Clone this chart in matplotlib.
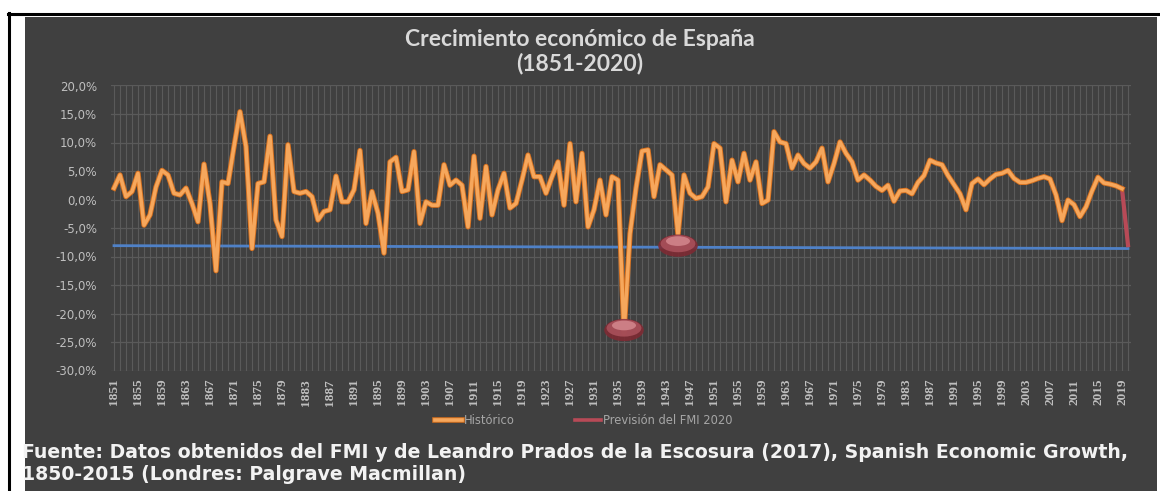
import matplotlib
matplotlib.use("Agg")
import matplotlib.pyplot as plt
import matplotlib.patheffects as pe
from matplotlib.patches import Ellipse, Rectangle
from matplotlib.lines import Line2D

# Crecimiento anual del PIB (%), 1851-2019
years = list(range(1851, 2020))
historico = [
    2.0, 4.3, 0.5, 1.4, 4.6, -4.5, -2.7, 2.2, 5.1,            # 1851-1859
    4.3, 1.1, 0.8, 2.0, -0.7, -3.9, 6.2, -0.7, -12.5, 3.1,    # 1860-1869
    2.8, 9.3, 15.4, 9.3, -8.6, 2.8, 3.1, 11.1, -3.6, -6.5,    # 1870-1879
    9.6, 1.4, 1.1, 1.4, 0.5, -3.6, -2.1, -1.8, 4.1, -0.4,     # 1880-1889
    -0.4, 1.7, 8.6, -4.2, 1.4, -2.4, -9.4, 6.6, 7.4, 1.4,     # 1890-1899
    1.7, 8.4, -4.2, -0.4, -1.0, -1.0, 6.1, 2.5, 3.4, 2.5,     # 1900-1909
    -4.8, 7.6, -3.3, 5.8, -2.7, 1.7, 4.6, -1.5, -0.7, 3.4,    # 1910-1919
    7.8, 4.0, 4.0, 1.1, 4.0, 6.6, -1.0, 9.8, -0.4, 8.1,       # 1920-1929
    -4.8, -1.8, 3.4, -2.7, 4.0, 3.4, -23.5, -6.0, 2.0, 8.5,   # 1930-1939
    8.7, 0.5, 6.1, 5.2, 4.3, -6.2, 4.3, 1.1, 0.2, 0.5,        # 1940-1949
    2.2, 9.8, 9.0, -0.4, 6.9, 3.1, 8.1, 3.4, 6.6, -0.7,       # 1950-1959
    -0.1, 11.9, 10.1, 9.8, 5.5, 7.8, 6.3, 5.5, 6.6, 9.0,      # 1960-1969
    3.1, 6.3, 10.1, 8.1, 6.6, 3.4, 4.3, 3.4, 2.3, 1.6,        # 1970-1979
    2.5, -0.3, 1.5, 1.6, 1.0, 3.0, 4.2, 6.9, 6.4, 6.1,        # 1980-1989
    4.2, 2.6, 1.0, -1.8, 2.8, 3.6, 2.6, 3.6, 4.4, 4.6,        # 1990-1999
    5.1, 3.7, 3.0, 3.0, 3.3, 3.7, 4.0, 3.6, 0.8, -3.7,        # 2000-2009
    -0.1, -0.9, -3.0, -1.3, 1.5, 3.9, 2.9, 2.7, 2.4, 1.9,     # 2010-2019
]

prevision_years = [2019, 2020]
prevision = [1.9, -8.0]

ref_years = [1851, 2020]
ref_line = [-8.1, -8.6]

# cúpulas rojas que marcan la Guerra Civil y la posguerra
dome_years = [1936, 1945]
dome_levels = [-22.9, -8.1]

label_years = list(range(1851, 2020, 4))
y_ticks = list(range(-30, 21, 5))

BG = "#404040"
GRID = "#5a5a5a"
TXT = "#bfbfbf"

fig = plt.figure(figsize=(11.6, 4.91), dpi=100)
fig.patch.set_facecolor("white")

# marco negro y panel oscuro
fig.add_artist(Rectangle((25 / 1160, 0), 1132 / 1160, 474 / 491,
                         transform=fig.transFigure, facecolor=BG, edgecolor="none", zorder=0))
fig.add_artist(Line2D([8 / 1160, 1.0], [1 - 14 / 491, 1 - 14 / 491],
                      transform=fig.transFigure, color="black", lw=2.2))
fig.add_artist(Line2D([9 / 1160, 9 / 1160], [0, 1 - 13 / 491],
                      transform=fig.transFigure, color="black", lw=2.2))

ax = fig.add_axes([111 / 1160, (491 - 370.5) / 491, 1020 / 1160, 285 / 491])
ax.set_facecolor(BG)
for s in ax.spines.values():
    s.set_visible(False)

ax.set_xlim(1850.5, 2020.5)
ax.set_ylim(-30, 20)
ax.set_xticks(label_years)
ax.set_xticks(list(range(1851, 2021)), minor=True)
ax.set_xticklabels([str(y) for y in label_years], rotation=90,
                   family="Liberation Serif", fontweight="bold", fontsize=9.5, color=TXT)
ax.set_yticks(y_ticks)
ax.set_yticklabels([f"{v},0%" for v in y_ticks], family="DejaVu Sans",
                   fontsize=8.5, color=TXT)
ax.tick_params(axis="both", which="both", length=0)
ax.tick_params(axis="y", pad=10)
ax.tick_params(axis="x", pad=6)
ax.grid(True, which="both", axis="x", color=GRID, lw=0.8)
ax.grid(True, which="major", axis="y", color=GRID, lw=0.9)
ax.set_axisbelow(True)

ax.plot(ref_years, ref_line, color="#4f81c7", lw=2.0, zorder=2)

ax.plot(years, historico, color="#f6a75c", lw=2.5, solid_joinstyle="round", zorder=4,
        path_effects=[pe.Stroke(linewidth=3.8, foreground="#d6701e"), pe.Normal()])
ax.plot(prevision_years, prevision, color="#b84a57", lw=3.0, zorder=3)

for hy, cy in zip(dome_years, dome_levels):
    ax.add_patch(Ellipse((hy, cy), 6.6, 3.9, facecolor="#7e2a33", edgecolor="none",
                         alpha=0.9, zorder=5))
    ax.add_patch(Ellipse((hy, cy + 0.35), 5.8, 3.0, facecolor="#a9505a", edgecolor="none",
                         alpha=0.9, zorder=5))
    ax.add_patch(Ellipse((hy, cy + 0.8), 4.0, 1.7, facecolor="#d4878e", edgecolor="none",
                         alpha=0.85, zorder=5))

fig.text(0.5, 1 - 40 / 491, "Crecimiento económico de España", ha="center", va="center",
         family="Lato", fontweight="bold", fontsize=16.5, color="#d9d9d9")
fig.text(0.5, 1 - 63 / 491, "(1851-2020)", ha="center", va="center",
         family="Lato", fontweight="bold", fontsize=16.5, color="#d9d9d9")

handles = [Line2D([], [], color="#f6a75c", lw=2.6,
                  path_effects=[pe.Stroke(linewidth=4, foreground="#d6701e"), pe.Normal()]),
           Line2D([], [], color="#b84a57", lw=2.6)]
leg = fig.legend(handles, ["Histórico", "Previsión del FMI 2020"], loc="center",
                 bbox_to_anchor=(584 / 1160, 1 - 421 / 491), ncol=2, frameon=False,
                 prop={"family": "DejaVu Sans", "size": 8.3}, labelcolor="#a6a6a6",
                 handlelength=2.3, handletextpad=0.2, columnspacing=5.2)

fig.text(22 / 1160, 1 - 452 / 491,
         "Fuente: Datos obtenidos del FMI y de Leandro Prados de la Escosura (2017), Spanish Economic Growth,",
         ha="left", va="center", family="DejaVu Sans", fontweight="bold", fontsize=13.6, color="#f2f2f2")
fig.text(22 / 1160, 1 - 474 / 491, "1850-2015 (Londres: Palgrave Macmillan)",
         ha="left", va="center", family="DejaVu Sans", fontweight="bold", fontsize=13.6, color="#f2f2f2")

fig.savefig("out.png", dpi=100, facecolor=fig.get_facecolor())
